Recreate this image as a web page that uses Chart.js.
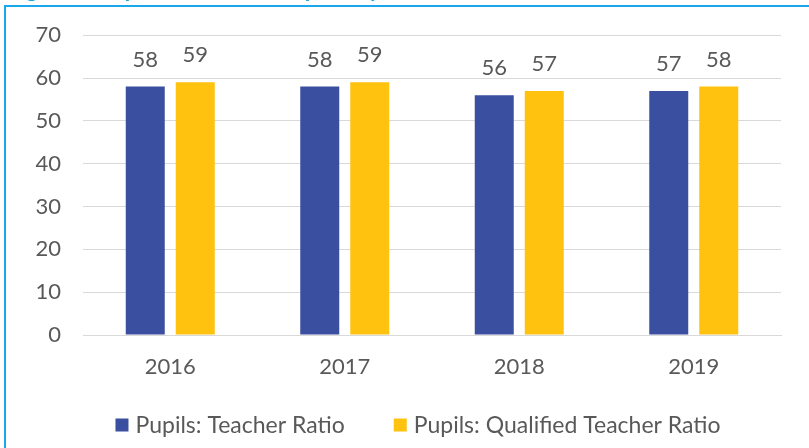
<!DOCTYPE html>
<html>
<head>
<meta charset="utf-8">
<script src="https://cdn.jsdelivr.net/npm/chart.js@4.4.1/dist/chart.umd.min.js"></script>
<style>
  html, body { margin: 0; padding: 0; background: #ffffff; }
  #wrap { position: relative; width: 809px; height: 448px; }
  canvas { display: block; }
</style>
</head>
<body>
<div id="wrap"><canvas id="c" width="809" height="448"></canvas></div>
<script>
const categories = ["2016", "2017", "2018", "2019"];
const teacherRatio = [58, 58, 56, 57];
const qualifiedRatio = [59, 59, 57, 58];
const seriesNames = ["Pupils: Teacher Ratio", "Pupils: Qualified Teacher Ratio"];
const seriesColors = ["#3A4FA0", "#FFC20F"];
const yTicks = [0, 10, 20, 30, 40, 50, 60, 70];
const titleText = "Figure 6: Pupils: teacher ratio, primary";

const FONT = "Lato, 'Open Sans', sans-serif";
const TEXT = "#595959";

const framePlugin = {
  id: "frame",
  beforeDraw(chart) {
    const ctx = chart.ctx;
    ctx.save();
    ctx.fillStyle = "#ffffff";
    ctx.fillRect(0, 0, chart.width, chart.height);
    // cut-off title (only descenders show)
    ctx.fillStyle = "#1AA1E6";
    ctx.font = "bold 22px " + FONT;
    ctx.textBaseline = "alphabetic";
    ctx.textAlign = "left";
    ctx.fillText(titleText, 8, -3);
    // border
    ctx.strokeStyle = "#1AA7EC";
    ctx.lineWidth = 2;
    ctx.beginPath();
    ctx.moveTo(5, chart.height);
    ctx.lineTo(5, 6);
    ctx.lineTo(chart.width, 6);
    ctx.stroke();
    ctx.restore();
  }
};

const labelPlugin = {
  id: "valueLabels",
  afterDatasetsDraw(chart) {
    const ctx = chart.ctx;
    ctx.save();
    ctx.fillStyle = TEXT;
    ctx.font = "22px " + FONT;
    ctx.textAlign = "center";
    ctx.textBaseline = "alphabetic";
    chart.data.datasets.forEach((ds, i) => {
      const meta = chart.getDatasetMeta(i);
      meta.data.forEach((bar, j) => {
        ctx.fillText(String(ds.data[j]), bar.x, bar.y - 20);
      });
    });
    ctx.restore();
  }
};

const legendPlugin = {
  id: "bottomLegend",
  afterDraw(chart) {
    const ctx = chart.ctx;
    ctx.save();
    ctx.font = "23px " + FONT;
    ctx.textBaseline = "middle";
    ctx.textAlign = "left";
    const box = 13, gapText = 7, gapItem = 49, cy = 425;
    const ds = chart.data.datasets;
    const widths = ds.map(d => ctx.measureText(d.label).width);
    let total = 0;
    widths.forEach((w, i) => { total += box + gapText + w + (i < widths.length - 1 ? gapItem : 0); });
    let x = 418 - total / 2;
    ds.forEach((d, i) => {
      ctx.fillStyle = d.backgroundColor;
      ctx.fillRect(x, cy - box / 2, box, box);
      x += box + gapText;
      ctx.fillStyle = TEXT;
      ctx.fillText(d.label, x, cy + 1);
      x += widths[i] + gapItem;
    });
    ctx.restore();
  }
};

new Chart(document.getElementById("c"), {
  type: "bar",
  data: {
    labels: categories,
    datasets: [
      { label: seriesNames[0], data: teacherRatio, backgroundColor: seriesColors[0],
        barPercentage: 0.78, categoryPercentage: 0.573 },
      { label: seriesNames[1], data: qualifiedRatio, backgroundColor: seriesColors[1],
        barPercentage: 0.78, categoryPercentage: 0.573 }
    ]
  },
  options: {
    responsive: false,
    animation: false,
    devicePixelRatio: 1,
    layout: { padding: { left: 0, right: 28, top: 33, bottom: 0 } },
    plugins: {
      legend: { display: false },
      tooltip: { enabled: false },
      title: { display: false }
    },
    scales: {
      x: {
        grid: { display: false },
        border: { display: true, color: "#D9D9D9", width: 1 },
        ticks: { color: TEXT, font: { family: FONT, size: 22 }, padding: 11 },
        afterFit(scale) { scale.height = 113; }
      },
      y: {
        min: 0, max: 70,
        afterBuildTicks(scale) { scale.ticks = yTicks.map(v => ({ value: v })); },
        grid: { color: "#D9D9D9", lineWidth: 1, drawTicks: false },
        border: { display: false },
        ticks: { color: TEXT, font: { family: FONT, size: 22 }, padding: 22 },
        afterFit(scale) { scale.width = 83; }
      }
    }
  },
  plugins: [framePlugin, labelPlugin, legendPlugin]
});
</script>
</body>
</html>
